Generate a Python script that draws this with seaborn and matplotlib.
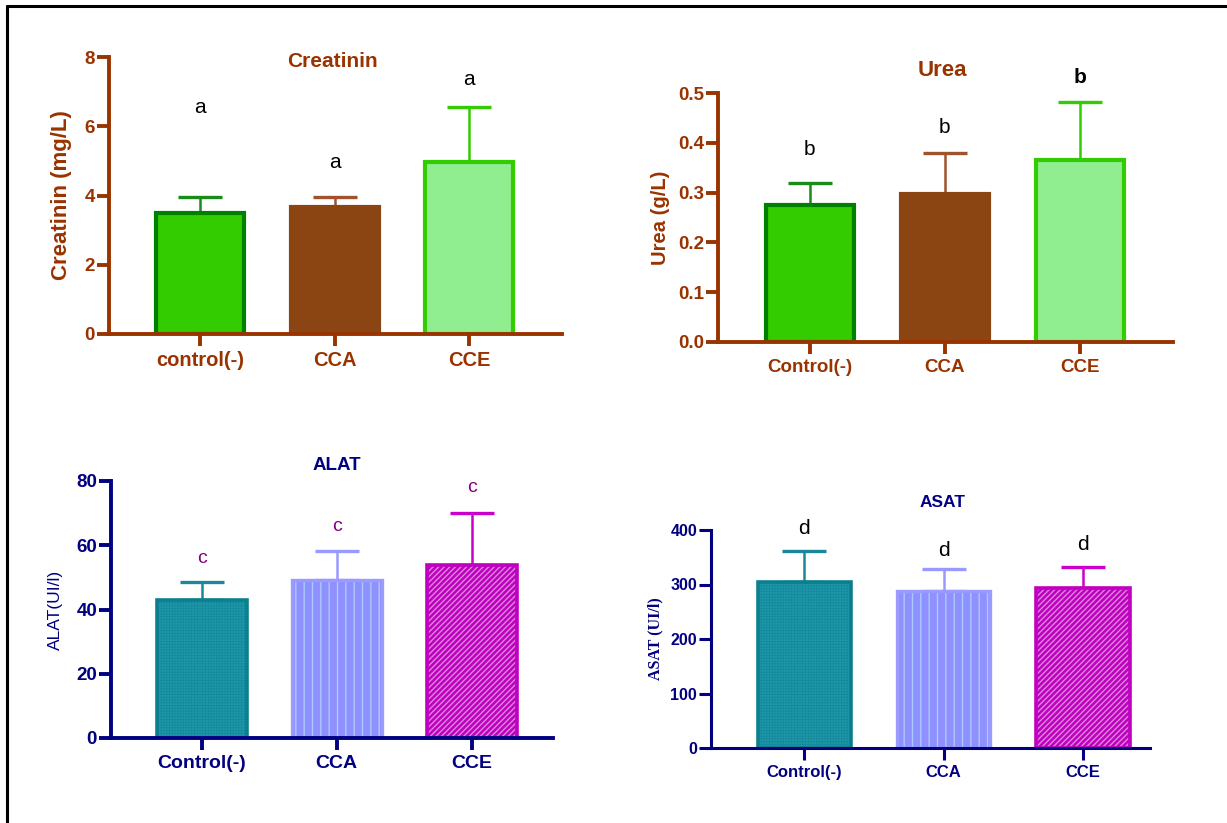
import matplotlib
matplotlib.use("Agg")
import matplotlib.pyplot as plt
import seaborn as sns
import pandas as pd
from matplotlib.patches import Rectangle
from matplotlib.lines import Line2D

# ---- data (mean, SD, significance letters) ----
creat_groups = ["control(-)", "CCA", "CCE"]
creat_mean = [3.5, 3.67, 4.98]
creat_sd = [0.46, 0.29, 1.58]
creat_letters = ["a", "a", "a"]
creat_letter_y = [6.53, 4.94, 7.34]

urea_groups = ["Control(-)", "CCA", "CCE"]
urea_mean = [0.276, 0.297, 0.366]
urea_sd = [0.044, 0.082, 0.115]
urea_letters = ["b", "b", "b"]
urea_letter_y = [0.386, 0.43, 0.532]

alat_groups = ["Control(-)", "CCA", "CCE"]
alat_mean = [43.0, 49.3, 54.0]
alat_sd = [5.6, 8.9, 16.0]
alat_letters = ["c", "c", "c"]
alat_letter_y = [56.0, 65.7, 77.9]

asat_groups = ["Control(-)", "CCA", "CCE"]
asat_mean = [305, 288, 294]
asat_sd = [56, 40, 38]
asat_letters = ["d", "d", "d"]
asat_letter_y = [402, 363, 374]

sns.set_theme(style="white")
plt.rcParams["font.family"] = ["Liberation Sans", "DejaVu Sans"]
plt.rcParams["hatch.linewidth"] = 1.0

W, H = 1227, 823
fig = plt.figure(figsize=(W / 100, H / 100), dpi=100)
fig.patch.set_facecolor("white")

BROWN = "#993300"
NAVY = "#000080"

green_style = dict(
    fills=["#33CC00", "#8B4513", "#90EE90"],
    edges=["#008000", "#8B4513", "#33CC00"],
    hatches=[None, None, None],
    hatch_colors=[None, None, None],
    errs=["#1A8A1A", "#A0522D", "#33CC00"],
    edge_lw=[3.0, 3.0, 3.0],
)
enz_style = dict(
    fills=["#0A8393", "#9090FF", "#C000C0"],
    edges=["#0B7F8E", "#9A9AFF", "#C000C0"],
    hatches=["++++++", "||", "//////"],
    hatch_colors=["#1C94A5", "#A8CCFF", "#DA88DA"],
    errs=["#1A8898", "#9999FF", "#CC00CC"],
    edge_lw=[2.6, 2.4, 2.6],
)


def axes_box(left, right, bottom, top):
    """Axes rectangle from pixel edges (y measured from top)."""
    return [left / W, 1 - bottom / H, (right - left) / W, (bottom - top) / H]


def panel(box, groups, means, sds, letters, letter_y, style, ylim, yticks,
          xlim, color, title, title_xy, title_size, ylabel, ylabel_x,
          ylabel_font, tick_size, xtick_size, letter_color, letter_size,
          letter_weight, spine_lw, width):
    ax = fig.add_axes(box)
    df = pd.DataFrame({"group": groups, "value": means})
    sns.barplot(data=df, x="group", y="value", hue="group",
                palette=style["fills"], saturation=1, legend=False,
                width=width, errorbar=None, ax=ax, zorder=2)
    for i, p in enumerate(ax.patches):
        hatch = style["hatches"][i]
        if hatch:
            p.set_hatch(hatch)
            p.set_edgecolor(style["hatch_colors"][i])
        p.set_linewidth(0)
        ax.add_patch(Rectangle((p.get_x(), p.get_y()), p.get_width(),
                               p.get_height(), fill=False,
                               edgecolor=style["edges"][i],
                               lw=style["edge_lw"][i], zorder=3))
        xc = p.get_x() + p.get_width() / 2
        ax.errorbar([xc], [means[i]], yerr=[[0], [sds[i]]], fmt="none",
                    ecolor=style["errs"][i], elinewidth=1.8, capsize=16,
                    capthick=2.4, zorder=1.5)
        ax.text(xc, letter_y[i], letters[i], ha="center", va="center",
                fontsize=letter_size, color=letter_color,
                fontweight=letter_weight, clip_on=False)

    ax.set_ylim(*ylim)
    ax.set_xlim(*xlim)
    ax.set_yticks(yticks)
    ax.set_facecolor("none")
    for s in ["top", "right"]:
        ax.spines[s].set_visible(False)
    for s in ["left", "bottom"]:
        ax.spines[s].set_color(color)
        ax.spines[s].set_linewidth(spine_lw)
        ax.spines[s].set_zorder(4)
    ax.tick_params(axis="both", colors=color, width=spine_lw, length=8.5,
                   direction="out", left=True, bottom=True)
    ax.tick_params(axis="y", pad=1.5, labelsize=tick_size)
    ax.tick_params(axis="x", pad=4, labelsize=xtick_size)
    for lab in ax.get_xticklabels() + ax.get_yticklabels():
        lab.set_fontweight("bold")
    ax.set_xlabel("")
    ax.set_ylabel(ylabel, color=color, **ylabel_font)
    ax.yaxis.set_label_coords(ylabel_x, 0.5)
    ax.text(title_xy[0], title_xy[1], title, transform=ax.transAxes,
            ha="center", va="center", fontsize=title_size,
            fontweight="bold", color=color)
    return ax


# Creatinin
panel(axes_box(109, 562, 334, 57), creat_groups, creat_mean, creat_sd,
      creat_letters, creat_letter_y, green_style, (0, 8), [0, 2, 4, 6, 8],
      (-0.68, 2.69), BROWN, "Creatinin", (0.494, 0.982), 15,
      "Creatinin (mg/L)", -0.082,
      dict(fontsize=16, fontweight="bold"), 13.5, 14.5, "black", 15,
      "normal", 2.8, 0.655)

# Urea
ax_urea = panel(axes_box(718, 1173, 342, 93), urea_groups, urea_mean,
                urea_sd, urea_letters, urea_letter_y, green_style, (0, 0.5),
                [0.0, 0.1, 0.2, 0.3, 0.4, 0.5], (-0.68, 2.69), BROWN, "Urea",
                (0.494, 1.092), 16, "Urea (g/L)", -0.105,
                dict(fontsize=14.5, fontweight="bold"), 13.5, 13.5, "black",
                15, "normal", 2.8, 0.655)
# the letter over the CCE bar is set in bold
ax_urea.texts[2].set_fontweight("bold")
ax_urea.yaxis.set_major_formatter(matplotlib.ticker.FormatStrFormatter("%.1f"))
for lab in ax_urea.get_yticklabels():
    lab.set_fontweight("bold")

# ALAT
panel(axes_box(111, 553, 738, 481), alat_groups, alat_mean, alat_sd,
      alat_letters, alat_letter_y, enz_style, (0, 80), [0, 20, 40, 60, 80],
      (-0.67, 2.6), NAVY, "ALAT", (0.511, 1.062), 13.5, "ALAT(UI/l)", -0.109,
      dict(fontsize=12.5, fontweight="normal"), 13.5, 14, "#800080", 14,
      "normal", 2.8, 0.665)

# ASAT
panel(axes_box(711, 1150, 748, 530), asat_groups, asat_mean, asat_sd,
      asat_letters, asat_letter_y, enz_style, (0, 400),
      [0, 100, 200, 300, 400], (-0.67, 2.48), NAVY, "ASAT", (0.528, 1.124),
      12.5, "ASAT (UI/l)", -0.109,
      dict(fontsize=11.5, fontweight="bold",
           family=["Liberation Serif", "DejaVu Serif"]),
      11.5, 12, "black", 15, "normal", 2.2, 0.67)

# outer frame (top and left edges)
fig.add_artist(Line2D([7 / W, 1], [1 - 6 / H, 1 - 6 / H],
                      transform=fig.transFigure, color="black", lw=2.2))
fig.add_artist(Line2D([7 / W, 7 / W], [0, 1 - 6 / H],
                      transform=fig.transFigure, color="black", lw=2.2))

fig.savefig("out.png", dpi=100, facecolor="white")
